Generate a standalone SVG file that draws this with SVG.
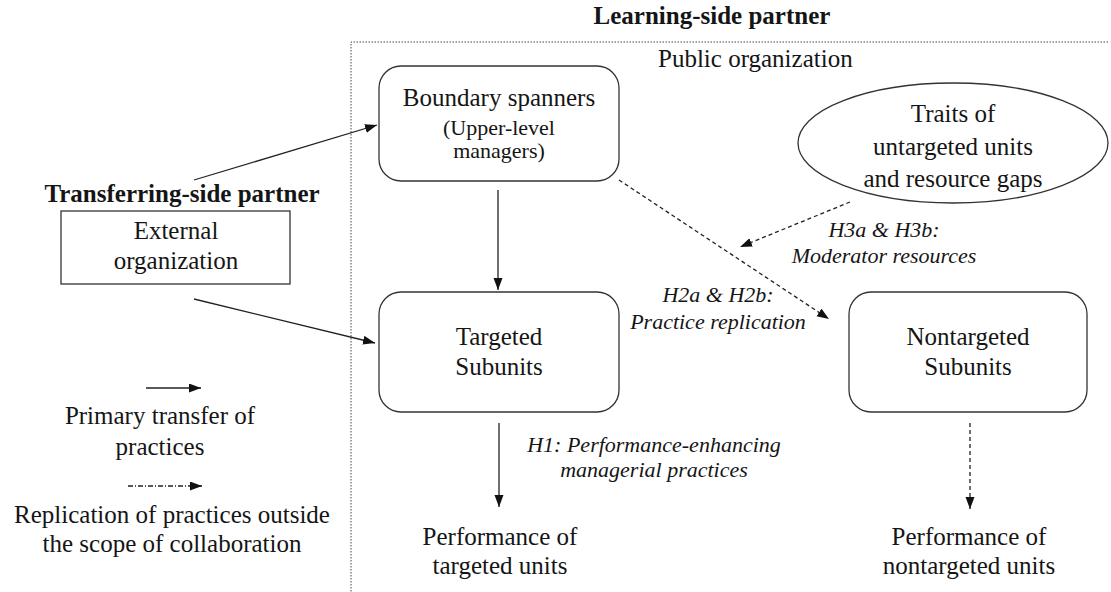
<svg xmlns="http://www.w3.org/2000/svg" width="1111" height="592" viewBox="0 0 1111 592">
<defs>
<marker id="ah" markerUnits="userSpaceOnUse" markerWidth="12" markerHeight="10" refX="12" refY="4.5" orient="auto">
<path d="M0,0 L12,4.5 L0,9 z" fill="#111"/>
</marker>
</defs>
<style>
text{font-family:'Liberation Serif','Times New Roman',serif;fill:#151515;font-size:25px}
.b{font-weight:bold}
.m{text-anchor:middle}
.i{font-style:italic;font-size:22px}
.s{font-size:22px}
.node{fill:#fff;stroke:#333;stroke-width:1.3}
.c{fill:none;stroke:#222;stroke-width:1.3}
.d{stroke-dasharray:4 3}
.dd{stroke-dasharray:5 2 1 2}
.bd{fill:none;stroke:#444;stroke-width:1;stroke-dasharray:1.5 1.5}
</style>
<rect width="1111" height="592" fill="#fff"/>
<g id="learning-side">
<path class="bd" d="M1108,42 H351 V592"/>
<text class="b m" x="712" y="24">Learning-side partner</text>
<text x="658" y="67">Public organization</text>
</g>
<g id="transferring-side">
<text class="b m" x="182" y="202">Transferring-side partner</text>
</g>
<g id="external-organization">
<rect class="node" x="61" y="211" width="229" height="73"/>
<text class="m" x="176" y="239">External</text>
<text class="m" x="176" y="269">organization</text>
</g>
<g id="boundary-spanners">
<rect class="node" x="379" y="66" width="240" height="115" rx="22"/>
<text class="m" x="499" y="106">Boundary spanners</text>
<text class="m s" x="499" y="135">(Upper-level</text>
<text class="m s" x="499" y="158">managers)</text>
</g>
<g id="traits">
<ellipse class="node" cx="953" cy="143" rx="155" ry="60"/>
<text class="m" x="953" y="122">Traits of</text>
<text class="m" x="953" y="155">untargeted units</text>
<text class="m" x="953" y="187">and resource gaps</text>
</g>
<g id="targeted-subunits">
<rect class="node" x="379" y="292" width="240" height="120" rx="22"/>
<text class="m" x="499" y="345">Targeted</text>
<text class="m" x="499" y="375">Subunits</text>
</g>
<g id="nontargeted-subunits">
<rect class="node" x="849" y="292" width="238" height="120" rx="22"/>
<text class="m" x="968" y="345">Nontargeted</text>
<text class="m" x="968" y="375">Subunits</text>
</g>
<g id="performance-targeted">
<text class="m" x="500" y="545">Performance of</text>
<text class="m" x="500" y="574">targeted units</text>
</g>
<g id="performance-nontargeted">
<text class="m" x="969" y="545">Performance of</text>
<text class="m" x="969" y="574">nontargeted units</text>
</g>
<g id="connectors">
<line class="c" x1="194" y1="180" x2="377" y2="125" marker-end="url(#ah)"/>
<line class="c" x1="194" y1="299" x2="375" y2="343" marker-end="url(#ah)"/>
<line class="c" x1="498" y1="190" x2="498" y2="290" marker-end="url(#ah)"/>
<line class="c d" x1="619" y1="180" x2="829" y2="319" marker-end="url(#ah)"/>
<line class="c d" x1="850" y1="202" x2="740" y2="247" marker-end="url(#ah)"/>
<line class="c" x1="499" y1="423" x2="499" y2="507" marker-end="url(#ah)"/>
<line class="c d" x1="970" y1="423" x2="970" y2="509" marker-end="url(#ah)"/>
</g>
<g id="labels">
<text class="m i" x="884" y="237">H3a &amp; H3b:</text>
<text class="m i" x="884" y="263">Moderator resources</text>
<text class="m i" x="718" y="302">H2a &amp; H2b:</text>
<text class="m i" x="718" y="329">Practice replication</text>
<text class="m i" x="654" y="452">H1: Performance-enhancing</text>
<text class="m i" x="654" y="477">managerial practices</text>
</g>
<g id="legend">
<line class="c" x1="146" y1="388" x2="201" y2="388" marker-end="url(#ah)"/>
<text class="m" x="160" y="424">Primary transfer of</text>
<text class="m" x="160" y="455">practices</text>
<line class="c dd" x1="128" y1="486" x2="202" y2="486" marker-end="url(#ah)"/>
<text class="m" x="172" y="523">Replication of practices outside</text>
<text class="m" x="172" y="552">the scope of collaboration</text>
</g>
</svg>
